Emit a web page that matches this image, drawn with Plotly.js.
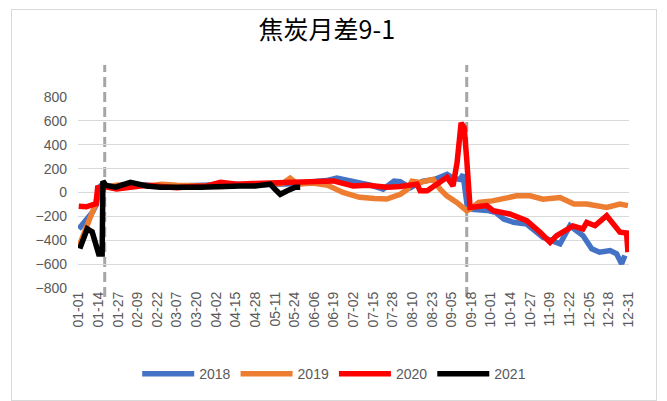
<!DOCTYPE html>
<html>
<head>
<meta charset="utf-8">
<script src="https://cdn.plot.ly/plotly-3.0.1.min.js"></script>
<style>
html,body{margin:0;padding:0;background:#fff;}
#wrap{position:relative;width:667px;height:401px;overflow:hidden;}
#frame{position:absolute;left:11px;top:9px;width:646px;height:392px;border:1px solid #D9D9D9;box-sizing:border-box;pointer-events:none;}
#chart{position:absolute;left:0;top:0;width:667px;height:401px;}
</style>
</head>
<body>
<div id="wrap"><div id="chart"></div><div id="frame"></div></div>
<script>
// x positions are day-of-year index (0 = 01-01)
var tickDays = [0,13,26,39,52,65,78,91,104,117,130,143,156,169,182,195,208,221,234,247,260,273,286,299,312,325,338,351,364];
var tickLabels = ["01-01","01-14","01-27","02-09","02-22","03-07","03-20","04-02","04-15","04-28","05-11","05-24","06-06","06-19","07-02","07-15","07-28","08-10","08-23","09-05","09-18","10-01","10-14","10-27","11-09","11-22","12-05","12-18","12-31"];
var yTicks = [-800,-600,-400,-200,0,200,400,600,800];

var days2018 = [0,4.4,9.1,11.7,13.2,15,25,35,45,55,65,75,85,95,105,115,125,135,145,155,164,171,173,185,194,201.6,208.9,213,219.5,228,236,244,248,252.6,254.6,257.2,259.2,270.3,276,281.5,288,296.7,307.5,318.8,325.4,334,339.8,345,352,356.3,359.6,361.8];
var vals2018 = [-305,-240,-165,-100,40,60,50,70,60,50,55,60,55,60,70,60,65,60,75,90,100,120,115,90,60,28,95,90,40,95,110,153,120,110,150,-100,-140,-150,-165,-222,-250,-264,-375,-430,-278,-361,-472,-500,-486,-514,-597,-528];

var days2019 = [0,4.4,9.1,11,13,15,25,35,45,55,65,75,85,95,105,115,125,135,140,145,155,165,175,186,196,204,213,217.5,220.8,226,234.7,239.4,243.8,250.4,257,259.2,265,274,290.1,299,307.5,318.8,328,336.5,349.7,358.5,363.8];
var vals2019 = [-455,-320,-180,-100,30,40,60,70,55,70,60,55,60,50,60,65,70,75,120,70,80,60,0,-40,-50,-55,-15,25,95,85,110,28,-28,-83,-152,-139,-83,-70,-28,-28,-56,-42,-97,-97,-125,-97,-110];

var days2020 = [0,5,10,11.5,12.5,17,25,35,45,55,65,75,85,93.8,105,115,125,135,146.7,155,168.6,181.8,191,204.3,212.9,224.1,226.1,230.8,239.4,244,247.9,250.6,253.3,255.3,257,257.9,259.2,270.3,274.5,285.5,296.7,305.6,312.2,316.6,323.2,327.4,334,336.5,342,349.7,358.5,362.9,363.8];
var vals2020 = [-115,-120,-100,-95,40,50,30,50,60,50,40,50,55,85,70,75,80,85,88,95,97,55,60,45,50,70,15,15,97,127,55,250,583,545,278,0,-125,-110,-153,-180,-236,-333,-417,-361,-305,-280,-305,-250,-278,-195,-333,-340,-500];

var days2021 = [0.7,5.6,8.9,13.2,15.5,16,18,24.3,34.2,45,54,65,73.9,80.6,95,107,116.9,126.9,130.2,133.5,138.1,143.4,146.7];
var vals2021 = [-470,-305,-330,-515,-515,95,60,45,85,55,45,50,45,45,55,55,55,70,25,-15,15,45,45];

var markDays = [17.2, 257];

var xRange = [-0.5, 364.5];
function px(d){ return (d - xRange[0]) / (xRange[1] - xRange[0]); }

var traces = [
  {x: days2018, y: vals2018, name: '2018', type: 'scatter', mode: 'lines', line: {color: '#4472C4', width: 5.5}},
  {x: days2019, y: vals2019, name: '2019', type: 'scatter', mode: 'lines', line: {color: '#ED7D31', width: 5.5}},
  {x: days2020, y: vals2020, name: '2020', type: 'scatter', mode: 'lines', line: {color: '#FF0000', width: 5.5}},
  {x: days2021, y: vals2021, name: '2021', type: 'scatter', mode: 'lines', line: {color: '#000000', width: 5.5}}
];

var shapes = markDays.map(function(d){
  return {type: 'line', xref: 'paper', yref: 'paper', x0: px(d), x1: px(d), y0: -0.047, y1: 1.167,
          line: {color: '#A6A6A6', width: 3, dash: '10px,5px'}, layer: 'below'};
});

var layout = {
  width: 667, height: 401,
  margin: {l: 78, r: 38, t: 97, b: 112},
  paper_bgcolor: '#ffffff', plot_bgcolor: '#ffffff',
  title: {text: '焦炭月差9-1', x: 0.49, xref: 'container', xanchor: 'center', y: 0.925, yref: 'container', yanchor: 'middle',
          font: {family: '"Noto Sans CJK SC", sans-serif', size: 25, color: '#000000'}},
  xaxis: {range: xRange, tickmode: 'array', tickvals: tickDays, ticktext: tickLabels, tickangle: -90,
          showgrid: false, zeroline: false, showline: false, ticks: '',
          tickfont: {family: '"Liberation Sans", sans-serif', size: 14, color: '#595959'}},
  yaxis: {range: [-800, 800], tickmode: 'array', tickvals: yTicks, showgrid: true, gridcolor: '#D9D9D9', gridwidth: 1,
          zeroline: false, showline: false, ticks: '', ticklabelstandoff: 10,
          tickfont: {family: '"Liberation Sans", sans-serif', size: 14, color: '#595959'}},
  showlegend: true,
  legend: {orientation: 'h', x: 0.465, xanchor: 'center', y: -0.443, yanchor: 'middle', itemwidth: 52,
           font: {family: '"Liberation Sans", sans-serif', size: 14, color: '#595959'}, traceorder: 'normal'},
  shapes: shapes
};

Plotly.newPlot('chart', traces, layout, {displayModeBar: false, staticPlot: true});
</script>
</body>
</html>
